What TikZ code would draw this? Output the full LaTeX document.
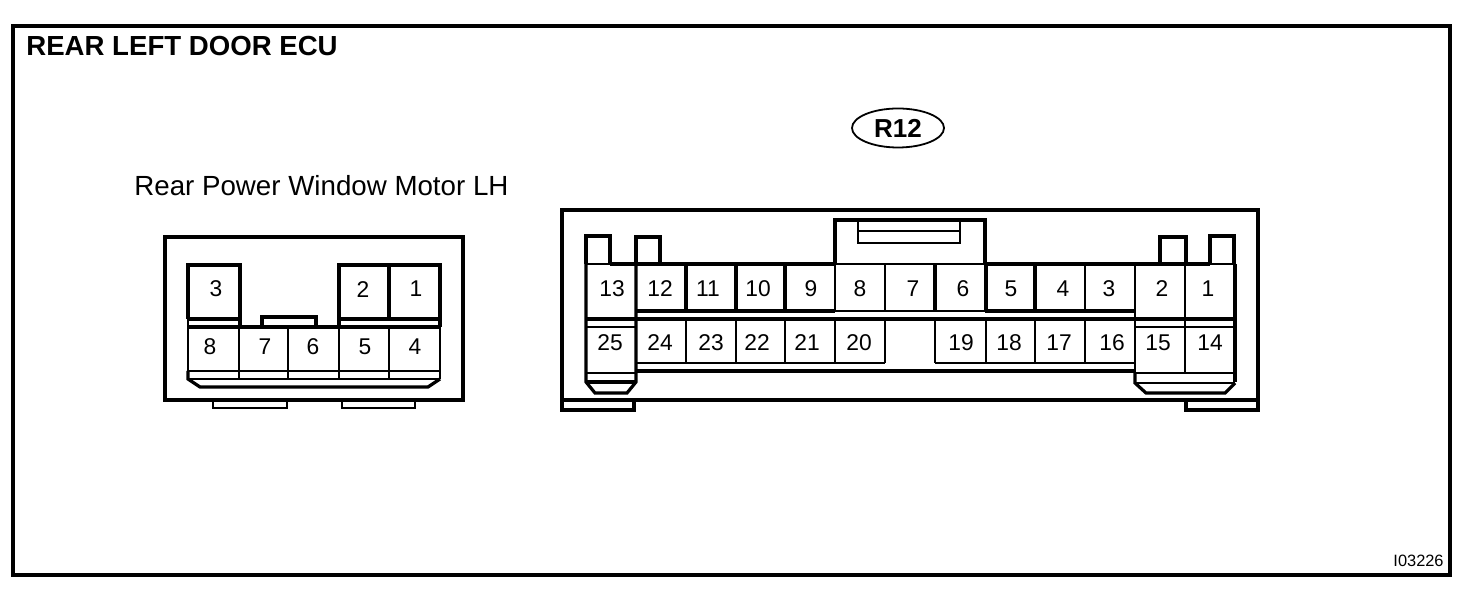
\documentclass[tikz,border=0pt]{standalone}
\usepackage{fontspec}
\setmainfont{Liberation Sans}
\usetikzlibrary{shapes.geometric}
\tikzset{
    x=0.5pt, y=-0.5pt,
    heavy/.style={line width=1.6pt, line join=miter},
    light/.style={line width=0.8pt},
    pin/.style={inner sep=0pt, font=\fontsize{11.4}{12}\selectfont},
    title/.style={inner sep=0pt, anchor=west, font=\fontsize{13.8}{15}\selectfont\bfseries},
    caption/.style={inner sep=0pt, anchor=west, font=\fontsize{13.85}{15}\selectfont}
}

\begin{document}
\begin{tikzpicture}
            \useasboundingbox (0, 0) rectangle (1472, 592);
            \fill [white] (0, 0) rectangle (1472, 592);
            \draw [heavy] (13, 26) rectangle (1450, 575);

            \node[title] (ecu) at (26, 46) {REAR LEFT DOOR ECU};
            \node[caption] (motor) at (134, 186) {Rear Power Window Motor LH};
            \node[draw, ellipse, line width=0.9pt, minimum width=46pt, minimum height=19.5pt, inner sep=0pt,
                font=\fontsize{13}{15}\selectfont\bfseries] (r12) at (898, 128) {R12};
            \node[inner sep=0pt, anchor=east, font=\fontsize{8.2}{9}\selectfont] (code) at (1444, 561) {I03226};

            \draw [heavy] (165, 237) rectangle (463, 400);
            \draw [light] (213, 400) -- (213, 408) -- (287, 408) -- (287, 400);
            \draw [light] (342, 400) -- (342, 408) -- (415, 408) -- (415, 400);
            \draw [heavy] (188, 319) -- (188, 265) -- (240, 265) -- (240, 327);
            \draw [heavy] (339, 327) -- (339, 265) -- (440, 265) -- (440, 327);
            \draw [heavy] (389, 265) -- (389, 319);
            \draw [heavy] (188, 319) -- (240, 319);
            \draw [heavy] (339, 319) -- (440, 319);
            \draw [heavy] (262, 327) -- (262, 317) -- (316, 317) -- (316, 327);
            \draw [heavy] (188, 327) -- (440, 327);
            \draw [light] (188, 319) -- (188, 371);
            \draw [light] (440, 319) -- (440, 379);
            \draw [light] (239, 327) -- (239, 379);
            \draw [light] (288, 327) -- (288, 379);
            \draw [light] (339, 327) -- (339, 379);
            \draw [light] (389, 327) -- (389, 379);
            \draw [light] (188, 371) -- (440, 371);
            \draw [light] (188, 379) -- (440, 379);
            \draw [heavy] (188, 371) -- (188, 379) -- (200, 387) -- (428, 387) -- (440, 379);

            \node[pin] (ml3) at (216, 289) {3};
            \node[pin] (ml2) at (363, 290) {2};
            \node[pin] (ml1) at (416, 289) {1};
            \node[pin] (ml8) at (210, 347) {8};
            \node[pin] (ml7) at (265, 347) {7};
            \node[pin] (ml6) at (313, 347) {6};
            \node[pin] (ml5) at (365, 347) {5};
            \node[pin] (ml4) at (415, 347) {4};

            \draw [heavy] (562, 210) rectangle (1258, 400);
            \draw [heavy] (562, 400) -- (562, 410) -- (634, 410) -- (634, 400);
            \draw [heavy] (1186, 400) -- (1186, 410) -- (1258, 410) -- (1258, 400);

            \draw [heavy] (835, 264) -- (835, 220) -- (985, 220) -- (985, 264);
            \draw [light] (858, 220) -- (858, 243) -- (960, 243) -- (960, 220);
            \draw [light] (858, 231) -- (960, 231);

            \draw [heavy] (586, 264) -- (586, 236) -- (610, 236) -- (610, 264);
            \draw [heavy] (636, 264) -- (636, 237) -- (660, 237) -- (660, 264);
            \draw [heavy] (1160, 264) -- (1160, 237) -- (1186, 237) -- (1186, 264);
            \draw [heavy] (1210, 264) -- (1210, 236) -- (1234, 236) -- (1234, 264);

            \draw [light] (586, 264) -- (610, 264);
            \draw [heavy] (610, 264) -- (835, 264);
            \draw [light] (835, 264) -- (985, 264);
            \draw [heavy] (985, 264) -- (1210, 264);
            \draw [light] (1210, 264) -- (1235, 264);

            \draw [heavy] (636, 311) -- (835, 311);
            \draw [light] (835, 311) -- (985, 311);
            \draw [heavy] (985, 311) -- (1135, 311);
            \draw [heavy] (586, 319) -- (1235, 319);

            \draw [heavy] (586, 264) -- (586, 382) -- (595, 393) -- (627, 393) -- (636, 382) -- (636, 264);
            \draw [light] (586, 327) -- (636, 327);
            \draw [light] (586, 373) -- (636, 373);
            \draw [heavy] (586, 382) -- (636, 382);

            \draw [heavy] (686, 264) -- (686, 311);
            \draw [heavy] (736, 264) -- (736, 311);
            \draw [heavy] (785, 264) -- (785, 311);
            \draw [light] (835, 264) -- (835, 311);
            \draw [light] (885, 264) -- (885, 311);
            \draw [heavy] (935, 264) -- (935, 311);
            \draw [heavy] (986, 264) -- (986, 311);
            \draw [heavy] (1035, 264) -- (1035, 311);
            \draw [light] (1085, 264) -- (1085, 311);
            \draw [light] (1135, 264) -- (1135, 382);
            \draw [light] (1185, 264) -- (1185, 373);
            \draw [heavy] (1235, 264) -- (1235, 382);

            \draw [light] (686, 319) -- (686, 363);
            \draw [light] (736, 319) -- (736, 363);
            \draw [light] (785, 319) -- (785, 363);
            \draw [light] (835, 319) -- (835, 363);
            \draw [light] (885, 319) -- (885, 363);
            \draw [light] (935, 319) -- (935, 363);
            \draw [light] (986, 319) -- (986, 363);
            \draw [light] (1035, 319) -- (1035, 363);
            \draw [light] (1085, 319) -- (1085, 363);
            \draw [light] (636, 363) -- (885, 363);
            \draw [light] (935, 363) -- (1135, 363);
            \draw [heavy] (636, 371) -- (1135, 371);

            \draw [light] (1135, 327) -- (1235, 327);
            \draw [light] (1135, 373) -- (1235, 373);
            \draw [heavy] (1135, 373) -- (1135, 383) -- (1146, 393) -- (1225, 393) -- (1235, 383);
            \draw [light] (1135, 383) -- (1235, 383);

            \node[pin] (ra13) at (612, 289) {13};
            \node[pin] (ra12) at (660, 289) {12};
            \node[pin] (ra11) at (708, 289) {11};
            \node[pin] (ra10) at (758, 289) {10};
            \node[pin] (ra9) at (811, 289) {9};
            \node[pin] (ra8) at (860, 289) {8};
            \node[pin] (ra7) at (913, 289) {7};
            \node[pin] (ra6) at (963, 289) {6};
            \node[pin] (ra5) at (1011, 289) {5};
            \node[pin] (ra4) at (1063, 289) {4};
            \node[pin] (ra3) at (1109, 289) {3};
            \node[pin] (ra2) at (1162, 289) {2};
            \node[pin] (ra1) at (1208, 289) {1};

            \node[pin] (rb25) at (610, 343) {25};
            \node[pin] (rb24) at (660, 343) {24};
            \node[pin] (rb23) at (711, 343) {23};
            \node[pin] (rb22) at (757, 343) {22};
            \node[pin] (rb21) at (807, 343) {21};
            \node[pin] (rb20) at (859, 343) {20};
            \node[pin] (rb19) at (961, 343) {19};
            \node[pin] (rb18) at (1009, 343) {18};
            \node[pin] (rb17) at (1059, 343) {17};
            \node[pin] (rb16) at (1112, 343) {16};
            \node[pin] (rb15) at (1158, 343) {15};
            \node[pin] (rb14) at (1210, 343) {14};
        \end{tikzpicture}
\end{document}
